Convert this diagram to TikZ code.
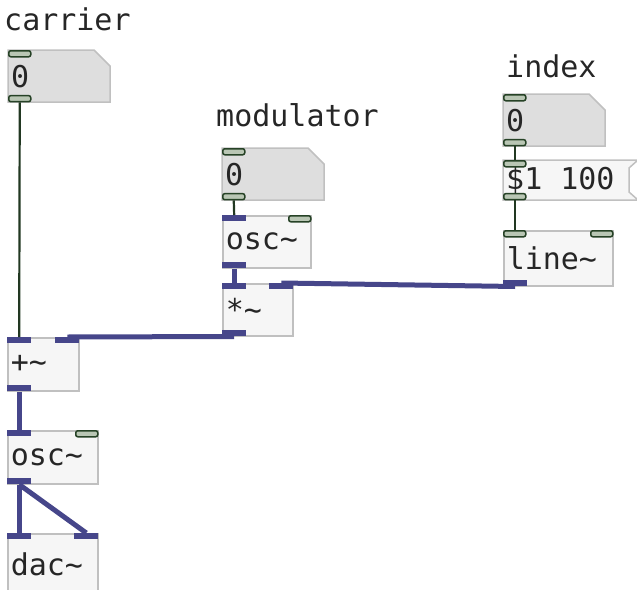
\documentclass[tikz,border=0pt]{standalone}
\usepackage{fontspec}
\setmonofont{DejaVu Sans Mono}
\definecolor{sigcol}{RGB}{70,70,138}
\definecolor{ctlline}{RGB}{38,66,38}
\definecolor{ctlfill}{RGB}{185,198,180}
\definecolor{cordcol}{RGB}{34,56,34}
\definecolor{boxline}{RGB}{192,192,192}
\definecolor{boxfill}{RGB}{246,246,246}
\definecolor{numfill}{RGB}{222,222,222}

\tikzset{
  pdtext/.style={font=\ttfamily\fontsize{30}{30}\selectfont, text=black!85},
  obj/.style={pdtext, draw=boxline, fill=boxfill, line width=1.5pt, inner xsep=3pt, inner ysep=0pt, anchor=north west, align=left},
  plain/.style={pdtext, inner xsep=3pt, inner ysep=0pt, anchor=north west, align=left},
  port/.style={inner sep=0pt, minimum width=24pt, minimum height=6pt},
  sig/.style={port, fill=sigcol},
  ctl/.style={port, minimum width=22pt, draw=ctlline, fill=ctlfill, line width=1.5pt, rounded corners=2pt},
  sigcord/.style={sigcol, line width=5pt},
  ctlcord/.style={cordcol, line width=2.2pt}
}

\begin{document}
\begin{tikzpicture}[x=1pt, y=-1pt]
  \useasboundingbox (0,0) rectangle (637,589);
  \begin{scope}
  \clip (0,0) rectangle (637,589);

  % labels
  \node[pdtext, anchor=base west, inner sep=0pt] (carrierL) at (4,30) {carrier};
  \node[pdtext, anchor=base west, inner sep=0pt] (modL) at (216,126) {modulator};
  \node[pdtext, anchor=base west, inner sep=0pt] (indexL) at (506,77) {index};

  % number boxes
  \foreach \nm/\x/\y in {nbC/8/50, nbM/222/148, nbI/503/94} {
    \filldraw[fill=numfill, draw=boxline, line width=1.5pt] (\x,\y) -- ++(86,0) -- ++(16,16) -- ++(0,36) -- ++(-102,0) -- cycle;
    \node[plain, text width=96pt, minimum height=52pt] (\nm) at (\x,\y) {0};
    \node[ctl, anchor=north west] (\nm-in) at (\nm.north west) {};
    \node[ctl, anchor=south west] (\nm-out) at (\nm.south west) {};
  }

  % message box
  \filldraw[fill=boxfill, draw=boxline, line width=1.5pt] (503,160) -- (638,160) -- (629,168) -- (629,192) -- (638,200) -- (503,200) -- cycle;
  \node[plain, text width=120pt, minimum height=40pt] (msgB) at (503,160) {\$1\makebox[0.6em]{}100};
  \node[ctl, anchor=north west] (msgB-in) at (msgB.north west) {};
  \node[ctl, anchor=south west] (msgB-out) at (msgB.south west) {};

  % objects
  \node[obj, text width=82pt, minimum height=52pt] (oscM) at (222,215) {osc\textasciitilde};
  \node[obj, text width=64pt, minimum height=52pt] (mulB) at (222,283) {*\textasciitilde};
  \node[obj, text width=103pt, minimum height=55pt] (lineB) at (503,230) {line\textasciitilde};
  \node[obj, text width=65pt, minimum height=53pt] (addB) at (7,337) {+\textasciitilde};
  \node[obj, text width=84pt, minimum height=53pt] (oscC) at (7,430) {osc\textasciitilde};
  \node[obj, text width=84pt, minimum height=62pt] (dacB) at (7,533) {dac\textasciitilde};

  % inlets and outlets
  \node[sig, anchor=north west] (oscM-inL) at (oscM.north west) {};
  \node[ctl, anchor=north east] (oscM-inR) at (oscM.north east) {};
  \node[sig, anchor=south west] (oscM-out) at (oscM.south west) {};
  \node[sig, anchor=north west] (mulB-inL) at (mulB.north west) {};
  \node[sig, anchor=north east] (mulB-inR) at (mulB.north east) {};
  \node[sig, anchor=south west] (mulB-out) at (mulB.south west) {};
  \node[ctl, anchor=north west] (lineB-inL) at (lineB.north west) {};
  \node[ctl, anchor=north east] (lineB-inR) at (lineB.north east) {};
  \node[sig, anchor=south west] (lineB-out) at (lineB.south west) {};
  \node[sig, anchor=north west] (addB-inL) at (addB.north west) {};
  \node[sig, anchor=north east] (addB-inR) at (addB.north east) {};
  \node[sig, anchor=south west] (addB-out) at (addB.south west) {};
  \node[sig, anchor=north west] (oscC-inL) at (oscC.north west) {};
  \node[ctl, anchor=north east] (oscC-inR) at (oscC.north east) {};
  \node[sig, anchor=south west] (oscC-out) at (oscC.south west) {};
  \node[sig, anchor=north west] (dacB-inL) at (dacB.north west) {};
  \node[sig, anchor=north east] (dacB-inR) at (dacB.north east) {};

  % cords
  \draw[ctlcord] (nbC-out.south) -- (addB-inL.north);
  \draw[ctlcord] (nbM-out.south) -- (oscM-inL.north);
  \draw[ctlcord] (nbI-out.south) -- (msgB-in.north);
  \draw[ctlcord] (msgB-out.south) -- (lineB-inL.north);
  \draw[sigcord] (oscM-out.south) -- (mulB-inL.north);
  \draw[sigcord] (lineB-out.south) -- (mulB-inR.north);
  \draw[sigcord] (mulB-out.south) -- (addB-inR.north);
  \draw[sigcord] (addB-out.south) -- (oscC-inL.north);
  \draw[sigcord] (oscC-out.south) -- (dacB-inL.north);
  \draw[sigcord] (oscC-out.south) -- (dacB-inR.north);
  \end{scope}
\end{tikzpicture}
\end{document}
